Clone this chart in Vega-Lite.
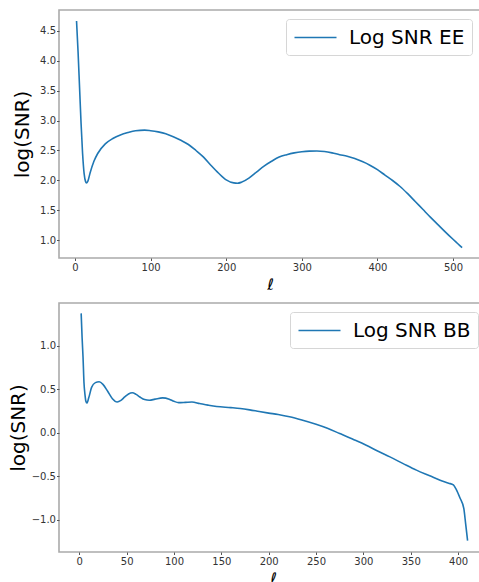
{
  "$schema": "https://vega.github.io/schema/vega-lite/v6.json",
  "background": "white",
  "padding": {"left": 7, "top": 9, "right": -9, "bottom": -5},
  "config": {
    "view": {"stroke": "#aaaaaa", "strokeWidth": 1.6},
    "font": "DejaVu Sans",
    "axis": {"grid": false, "domain": false, "tickSize": 2.5, "tickColor": "#555555", "tickWidth": 1, "labelFont": "DejaVu Sans", "labelFontSize": 10, "labelColor": "#333333", "labelPadding": 1.5, "titleFont": "DejaVu Sans", "titleFontWeight": "normal", "titleColor": "black"},
    "axisX": {"titleFontSize": 16, "titleFontStyle": "italic", "labelFlush": false, "labelOverlap": false, "titlePadding": 4},
    "axisY": {"titleFontSize": 20, "labelPadding": 1, "labelOverlap": false},
    "legend": {"title": null, "orient": "top-right", "offset": 9, "padding": 7, "strokeColor": "#d6d6d6", "fillColor": "white", "cornerRadius": 3, "labelFontSize": 20, "labelFont": "DejaVu Sans", "labelColor": "black", "symbolType": "M-2,0H2", "symbolSize": 441, "symbolStrokeWidth": 1.6, "symbolOffset": 11, "labelOffset": 22}
  },
  "datasets": {
    "ee": [
      {"l": 2, "v": 4.66}, {"l": 4, "v": 4.15}, {"l": 6, "v": 3.55}, {"l": 8, "v": 2.95}, {"l": 10, "v": 2.45}, {"l": 12, "v": 2.12}, {"l": 14, "v": 1.98}, {"l": 15, "v": 1.96}, {"l": 17, "v": 1.99}, {"l": 20, "v": 2.13}, {"l": 25, "v": 2.32}, {"l": 30, "v": 2.45}, {"l": 40, "v": 2.61}, {"l": 50, "v": 2.70}, {"l": 60, "v": 2.76}, {"l": 70, "v": 2.80}, {"l": 80, "v": 2.83}, {"l": 92, "v": 2.84}, {"l": 100, "v": 2.83}, {"l": 110, "v": 2.81}, {"l": 120, "v": 2.78}, {"l": 130, "v": 2.73}, {"l": 140, "v": 2.67}, {"l": 150, "v": 2.60}, {"l": 160, "v": 2.50}, {"l": 170, "v": 2.39}, {"l": 180, "v": 2.25}, {"l": 190, "v": 2.12}, {"l": 200, "v": 2.01}, {"l": 210, "v": 1.96}, {"l": 215, "v": 1.955}, {"l": 220, "v": 1.97}, {"l": 230, "v": 2.04}, {"l": 240, "v": 2.14}, {"l": 250, "v": 2.24}, {"l": 260, "v": 2.32}, {"l": 270, "v": 2.39}, {"l": 280, "v": 2.43}, {"l": 290, "v": 2.46}, {"l": 300, "v": 2.48}, {"l": 310, "v": 2.49}, {"l": 320, "v": 2.492}, {"l": 330, "v": 2.483}, {"l": 340, "v": 2.46}, {"l": 350, "v": 2.43}, {"l": 360, "v": 2.405}, {"l": 370, "v": 2.365}, {"l": 380, "v": 2.315}, {"l": 390, "v": 2.255}, {"l": 400, "v": 2.18}, {"l": 410, "v": 2.09}, {"l": 420, "v": 2.00}, {"l": 430, "v": 1.90}, {"l": 440, "v": 1.78}, {"l": 450, "v": 1.65}, {"l": 460, "v": 1.52}, {"l": 470, "v": 1.39}, {"l": 480, "v": 1.265}, {"l": 490, "v": 1.14}, {"l": 500, "v": 1.02}, {"l": 506, "v": 0.95}, {"l": 512, "v": 0.88}
    ],
    "bb": [
      {"l": 2, "v": 1.37}, {"l": 3, "v": 1.09}, {"l": 4, "v": 0.86}, {"l": 5, "v": 0.57}, {"l": 6, "v": 0.44}, {"l": 7, "v": 0.36}, {"l": 8, "v": 0.34}, {"l": 10, "v": 0.40}, {"l": 13, "v": 0.52}, {"l": 17, "v": 0.575}, {"l": 21, "v": 0.585}, {"l": 25, "v": 0.555}, {"l": 30, "v": 0.475}, {"l": 35, "v": 0.39}, {"l": 40, "v": 0.352}, {"l": 44, "v": 0.37}, {"l": 48, "v": 0.41}, {"l": 52, "v": 0.445}, {"l": 56, "v": 0.458}, {"l": 60, "v": 0.44}, {"l": 64, "v": 0.41}, {"l": 69, "v": 0.38}, {"l": 74, "v": 0.372}, {"l": 80, "v": 0.385}, {"l": 88, "v": 0.40}, {"l": 95, "v": 0.385}, {"l": 100, "v": 0.36}, {"l": 105, "v": 0.345}, {"l": 112, "v": 0.348}, {"l": 119, "v": 0.352}, {"l": 127, "v": 0.335}, {"l": 136, "v": 0.316}, {"l": 145, "v": 0.30}, {"l": 160, "v": 0.288}, {"l": 170, "v": 0.278}, {"l": 180, "v": 0.262}, {"l": 190, "v": 0.243}, {"l": 200, "v": 0.225}, {"l": 210, "v": 0.208}, {"l": 222, "v": 0.182}, {"l": 235, "v": 0.145}, {"l": 250, "v": 0.096}, {"l": 262, "v": 0.05}, {"l": 275, "v": -0.01}, {"l": 290, "v": -0.08}, {"l": 303, "v": -0.144}, {"l": 315, "v": -0.21}, {"l": 328, "v": -0.278}, {"l": 342, "v": -0.355}, {"l": 356, "v": -0.43}, {"l": 370, "v": -0.495}, {"l": 381, "v": -0.546}, {"l": 390, "v": -0.58}, {"l": 395, "v": -0.60}, {"l": 398, "v": -0.65}, {"l": 402, "v": -0.75}, {"l": 406, "v": -0.87}, {"l": 408, "v": -1.05}, {"l": 410, "v": -1.24}
    ]
  },
  "concat": [
    {
      "width": 422,
      "height": 248,
      "data": {"name": "ee"},
      "mark": {"type": "line", "strokeWidth": 1.6, "clip": true, "interpolate": "monotone"},
      "encoding": {
        "x": {"field": "l", "type": "quantitative", "scale": {"domain": [-21.2, 537.0], "nice": false, "zero": false}, "axis": {"values": [0, 100, 200, 300, 400, 500], "title": "ℓ"}},
        "y": {"field": "v", "type": "quantitative", "scale": {"domain": [0.708, 4.842], "nice": false, "zero": false}, "axis": {"values": [1, 1.5, 2, 2.5, 3, 3.5, 4, 4.5], "format": ".1f", "title": "log(SNR)", "titlePadding": 7}},
        "color": {"datum": "Log SNR EE", "type": "nominal", "scale": {"range": ["#1f77b4"]}}
      }
    },
    {
      "width": 428,
      "height": 249,
      "data": {"name": "bb"},
      "mark": {"type": "line", "strokeWidth": 1.6, "clip": true, "interpolate": "monotone"},
      "encoding": {
        "x": {"field": "l", "type": "quantitative", "scale": {"domain": [-21.4, 430.5], "nice": false, "zero": false}, "axis": {"values": [0, 50, 100, 150, 200, 250, 300, 350, 400], "title": "ℓ"}},
        "y": {"field": "v", "type": "quantitative", "scale": {"domain": [-1.370, 1.489], "nice": false, "zero": false}, "axis": {"values": [-1, -0.5, 0, 0.5, 1], "format": ".1f", "title": "log(SNR)", "titlePadding": 3}},
        "color": {"datum": "Log SNR BB", "type": "nominal", "scale": {"range": ["#1f77b4"]}}
      }
    }
  ],
  "columns": 1,
  "align": "none",
  "spacing": 9,
  "resolve": {"scale": {"color": "independent"}, "legend": {"color": "independent"}}
}
